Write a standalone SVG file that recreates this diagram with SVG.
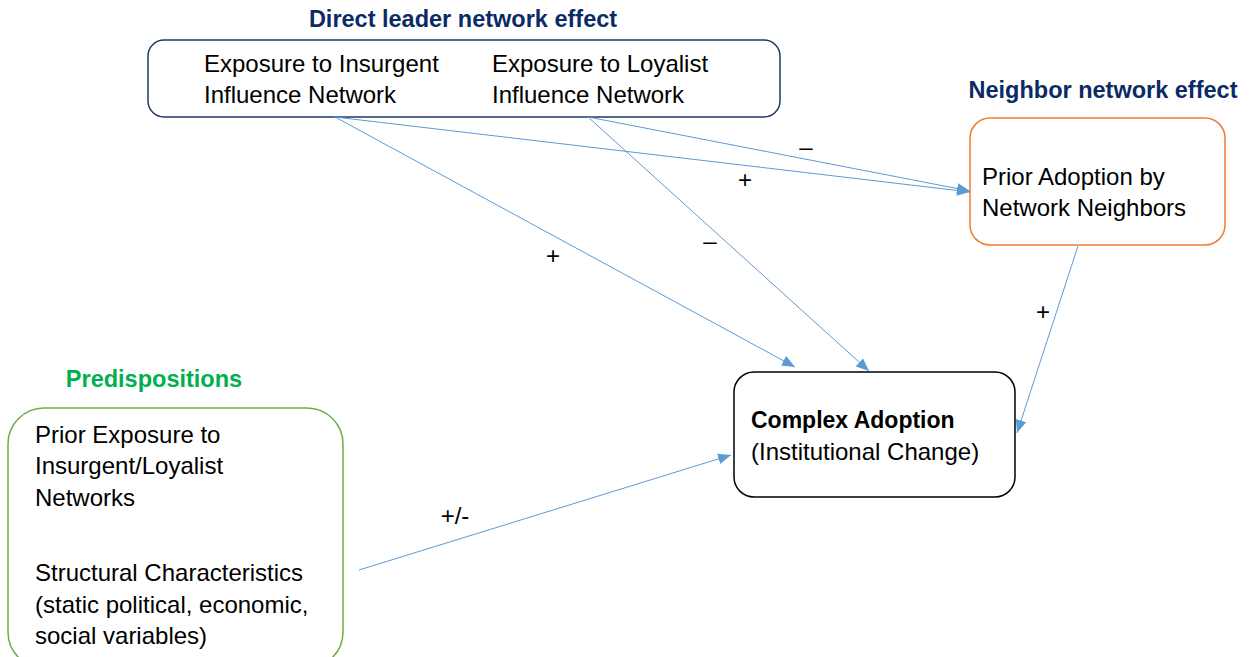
<svg xmlns="http://www.w3.org/2000/svg" width="1254" height="657" viewBox="0 0 1254 657">
  <style>
    .t { font-family: "Liberation Sans", Arial, sans-serif; font-size: 24px; fill: #000; }
    .b { font-weight: bold; font-size: 23px; }
    .title { font-family: "Liberation Sans", Arial, sans-serif; font-size: 23.5px; font-weight: bold; fill: #0B2A66; }
    .green { fill: #00B050; }
    .lbl { font-family: "Liberation Sans", Arial, sans-serif; font-size: 24px; fill: #000; text-anchor: middle; }
    .edge { stroke: #5B9BD5; stroke-width: 1; fill: none; marker-end: url(#ah); }
  </style>
  <defs>
    <marker id="ah" markerUnits="userSpaceOnUse" markerWidth="13" markerHeight="11" refX="12" refY="5" orient="auto" viewBox="0 0 12 10">
      <path d="M0,0 L12,5 L0,10 Z" fill="#5B9BD5"/>
    </marker>
  </defs>
  <rect width="1254" height="657" fill="#fff"/>

  <g id="direct-leader">
    <text class="title" x="463" y="27" text-anchor="middle">Direct leader network effect</text>
    <rect x="148" y="40" width="632" height="77" rx="16" fill="#fff" stroke="#1F3864" stroke-width="1.5"/>
    <text class="t" x="204" y="72">Exposure to Insurgent</text>
    <text class="t" x="204" y="103">Influence Network</text>
    <text class="t" x="492" y="72">Exposure to Loyalist</text>
    <text class="t" x="492" y="103">Influence Network</text>
  </g>

  <g id="neighbor">
    <text class="title" x="1103" y="98" text-anchor="middle">Neighbor network effect</text>
    <rect x="970" y="118" width="255" height="127" rx="20" fill="#fff" stroke="#ED7D31" stroke-width="1.5"/>
    <text class="t" x="982" y="185">Prior Adoption by</text>
    <text class="t" x="982" y="216">Network Neighbors</text>
  </g>

  <g id="complex-adoption">
    <rect x="734" y="372" width="281" height="125" rx="20" fill="#fff" stroke="#000" stroke-width="1.5"/>
    <text class="t b" x="751" y="428">Complex Adoption</text>
    <text class="t" x="751" y="460">(Institutional Change)</text>
  </g>

  <g id="predispositions">
    <text class="title green" x="154" y="387" text-anchor="middle">Predispositions</text>
    <rect x="8" y="408" width="335" height="260" rx="36" fill="#fff" stroke="#70AD47" stroke-width="1.5"/>
    <text class="t" x="35" y="443">Prior Exposure to</text>
    <text class="t" x="35" y="474">Insurgent/Loyalist</text>
    <text class="t" x="35" y="506">Networks</text>
    <text class="t" x="35" y="581">Structural Characteristics</text>
    <text class="t" x="35" y="613">(static political, economic,</text>
    <text class="t" x="35" y="644">social variables)</text>
  </g>

  <g id="connectors">
    <line class="edge" x1="335" y1="117" x2="795" y2="367"/>
    <line class="edge" x1="335" y1="117" x2="970" y2="192"/>
    <line class="edge" x1="588" y1="117" x2="970" y2="191"/>
    <line class="edge" x1="588" y1="117" x2="869" y2="371"/>
    <line class="edge" x1="1078" y1="246" x2="1017" y2="433"/>
    <line class="edge" x1="359" y1="570" x2="731" y2="455"/>
    <text class="lbl" x="553" y="264">+</text>
    <text class="lbl" x="745" y="188">+</text>
    <text class="lbl" x="806" y="155">–</text>
    <text class="lbl" x="710" y="249">–</text>
    <text class="lbl" x="1043" y="320">+</text>
    <text class="lbl" x="455" y="524">+/-</text>
  </g>
</svg>
